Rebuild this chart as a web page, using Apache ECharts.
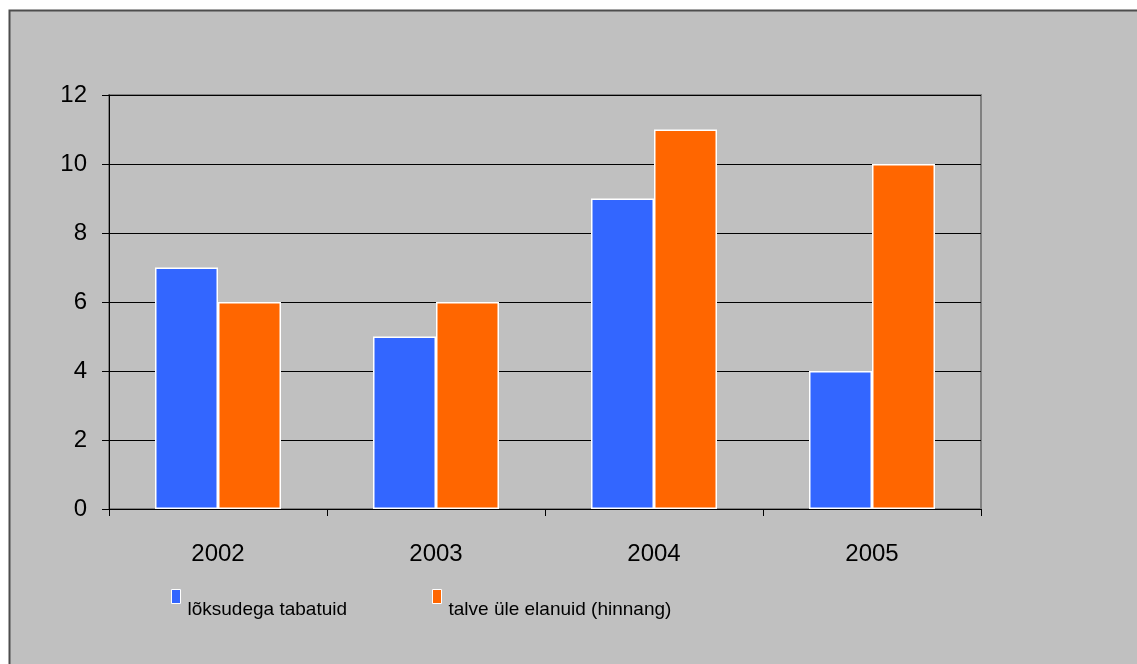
<!DOCTYPE html>
<html>
<head>
<meta charset="utf-8">
<script src="https://cdn.jsdelivr.net/npm/echarts@6/dist/echarts.min.js"></script>
<style>
html, body { margin: 0; padding: 0; background: #fff; }
#chart { width: 1137px; height: 664px; }
</style>
</head>
<body>
<div id="chart"></div>
<script>
// andmed
var years = ['2002', '2003', '2004', '2005'];
var caught = [7, 5, 9, 4];        // lõksudega tabatuid
var survived = [6, 6, 11, 10];    // talve üle elanuid (hinnang)
var seriesNames = ['lõksudega tabatuid', 'talve üle elanuid (hinnang)'];

var font = 'Liberation Sans, Arial, sans-serif';

var myChart = echarts.init(document.getElementById('chart'));

// legend: ruut üleval, tekst veidi allpool
function legendOpt(name, left) {
    return {
        data: [name],
        left: left,
        top: 584,
        orient: 'horizontal',
        icon: 'rect',
        itemWidth: 9,
        itemHeight: 14,
        itemGap: 0,
        selectedMode: false,
        itemStyle: { borderColor: '#fff', borderWidth: 1 },
        formatter: '{t|{name}}',
        textStyle: {
            fontFamily: font,
            fontSize: 19,
            color: '#000',
            rich: {
                t: { fontFamily: font, fontSize: 19, color: '#000', padding: [26, 0, 0, 2] }
            }
        }
    };
}

var option = {
    backgroundColor: '#fff',
    animation: false,
    graphic: [{
        type: 'rect',
        z: -10,
        shape: { x: 9.5, y: 10.5, width: 1200, height: 700 },
        style: { fill: '#c0c0c0', stroke: '#4d4d4d', lineWidth: 2 }
    }],
    legend: [legendOpt(seriesNames[0], 166), legendOpt(seriesNames[1], 427)],
    grid: {
        left: 109,
        right: 156,
        top: 95,
        bottom: 155,
        show: true,
        backgroundColor: 'transparent',
        borderColor: '#808080',
        borderWidth: 2
    },
    xAxis: {
        type: 'category',
        data: years,
        boundaryGap: true,
        axisLine: { lineStyle: { color: '#000', width: 1 } },
        axisTick: { show: true, alignWithLabel: false, length: 7, lineStyle: { color: '#000' } },
        axisLabel: { color: '#000', fontFamily: font, fontSize: 24, margin: 33 }
    },
    yAxis: {
        type: 'value',
        min: 0,
        max: 12,
        interval: 2,
        axisLine: { show: true, lineStyle: { color: '#000', width: 1 } },
        axisTick: { show: true, length: 7, lineStyle: { color: '#000' } },
        axisLabel: { color: '#000', fontFamily: font, fontSize: 24, margin: 22 },
        splitLine: { show: true, lineStyle: { color: '#000', width: 1 } }
    },
    series: [{
        name: seriesNames[0],
        type: 'bar',
        data: caught,
        barWidth: 63,
        barGap: '0%',
        itemStyle: { color: '#3366ff', borderColor: '#fff', borderWidth: 1.5 }
    }, {
        name: seriesNames[1],
        type: 'bar',
        data: survived,
        barWidth: 63,
        barGap: '0%',
        itemStyle: { color: '#ff6600', borderColor: '#fff', borderWidth: 1.5 }
    }]
};
myChart.setOption(option);
</script>
</body>
</html>
